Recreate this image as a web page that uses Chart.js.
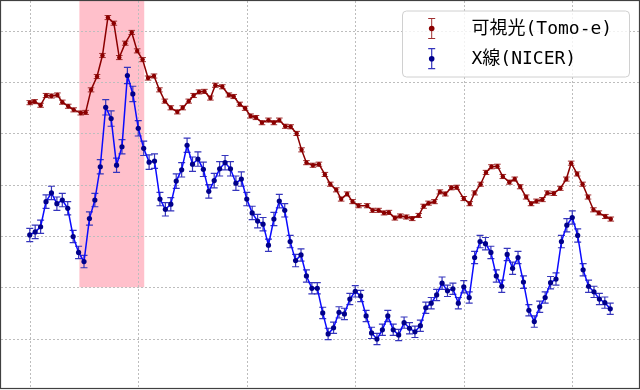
<!DOCTYPE html>
<html><head><meta charset="utf-8">
<script src="https://cdn.jsdelivr.net/npm/chart.js@4.4.0/dist/chart.umd.min.js"></script>
<style>html,body{margin:0;padding:0;background:#fff;}#wrap{width:640px;height:390px;}</style>
</head><body><div id="wrap"><canvas id="c" width="640" height="390"></canvas></div>
<script>
// ---- data ----
const seriesLabels = ['可視光(Tomo-e)', 'X線(NICER)'];
const xTicks = [0, 20, 40, 60, 80, 100];
const yTicks = [0, 1, 2, 3, 4, 5, 6];
const highlightX = [9.15, 21.1];
const highlightYBottom = 1;

const blueFlux = [
2.02,2.08,2.18,2.67,2.84,2.63,2.70,2.54,1.99,1.68,
1.50,2.34,2.70,3.35,4.51,4.29,3.38,3.74,5.13,4.77,
4.10,3.71,3.44,3.46,2.72,2.52,2.62,3.07,3.29,3.77,
3.40,3.50,3.30,2.87,3.08,3.31,3.43,3.31,3.03,3.11,
2.72,2.45,2.29,2.23,1.82,2.33,2.68,2.50,1.89,1.52,
1.63,1.22,0.98,0.98,0.50,0.09,0.21,0.51,0.48,0.77,
0.92,0.83,0.44,0.11,-0.01,0.17,0.44,0.17,0.07,0.31,
0.20,0.13,0.25,0.60,0.69,0.85,1.08,0.93,0.97,0.69,
1.01,0.80,1.58,1.89,1.85,1.68,1.22,1.02,1.64,1.37,
1.58,1.10,0.55,0.33,0.62,0.80,1.09,1.16,1.89,2.21,
2.36,2.01,1.34,1.02,0.91,0.77,0.70,0.58];
const blueErr = [
0.13,0.13,0.13,0.13,0.13,0.13,0.13,0.13,0.12,0.12,
0.12,0.13,0.13,0.14,0.15,0.15,0.14,0.14,0.16,0.15,
0.15,0.14,0.14,0.14,0.13,0.13,0.13,0.14,0.14,0.14,
0.14,0.14,0.14,0.13,0.14,0.14,0.14,0.14,0.14,0.14,
0.13,0.13,0.13,0.13,0.12,0.13,0.13,0.13,0.12,0.12,
0.12,0.12,0.11,0.11,0.11,0.11,0.11,0.11,0.11,0.11,
0.11,0.11,0.11,0.11,0.11,0.11,0.11,0.11,0.11,0.11,
0.11,0.11,0.11,0.11,0.11,0.11,0.12,0.11,0.11,0.11,
0.12,0.11,0.12,0.12,0.12,0.12,0.12,0.12,0.12,0.12,
0.12,0.12,0.11,0.11,0.11,0.11,0.12,0.12,0.12,0.13,
0.13,0.13,0.12,0.12,0.11,0.11,0.11,0.11];

const redTime = [
0.0,0.9,2.0,3.0,4.0,5.1,6.0,7.1,8.1,9.4,
10.3,11.3,12.4,13.4,14.4,15.5,16.5,17.6,18.8,19.8,
20.8,21.8,22.9,23.9,24.9,26.0,27.2,28.2,29.3,30.2,
31.2,32.2,33.3,34.2,35.5,36.7,37.6,38.7,39.7,40.7,
41.7,42.8,44.0,45.0,46.0,47.1,48.1,49.2,50.1,51.0,
52.2,53.3,54.4,55.4,56.5,57.4,58.5,59.5,60.6,62.2,
63.2,64.3,65.3,66.2,67.3,68.3,69.4,70.5,71.7,72.6,
73.5,74.6,75.6,76.6,77.7,78.7,80.0,81.1,82.0,83.1,
84.1,85.1,86.2,87.2,88.4,89.4,90.4,91.5,92.4,93.4,
94.5,95.4,96.6,97.8,98.9,99.8,100.9,101.9,102.9,103.9,
104.9,106.1,107.1];
const redFlux = [
4.60,4.62,4.55,4.74,4.73,4.75,4.61,4.53,4.46,4.40,
4.41,4.85,5.11,5.52,6.26,6.15,5.48,5.76,5.97,5.61,
5.44,5.08,5.12,4.85,4.63,4.50,4.42,4.50,4.63,4.74,
4.81,4.82,4.69,4.94,4.91,4.75,4.72,4.57,4.49,4.34,
4.31,4.21,4.26,4.21,4.26,4.14,4.13,4.00,3.68,3.43,
3.38,3.40,3.20,3.01,2.90,2.72,2.82,2.67,2.59,2.59,
2.50,2.50,2.45,2.46,2.35,2.39,2.37,2.34,2.40,2.58,
2.64,2.67,2.86,2.82,2.94,2.95,2.73,2.63,2.84,3.01,
3.24,3.35,3.36,3.16,3.05,3.11,2.96,2.76,2.63,2.68,
2.71,2.84,2.83,2.93,3.11,3.42,3.21,3.01,2.76,2.51,
2.45,2.38,2.33];
const redErr = [
0.04,0.04,0.04,0.04,0.04,0.04,0.04,0.04,0.04,0.04,
0.04,0.04,0.04,0.04,0.04,0.04,0.04,0.04,0.04,0.04,
0.04,0.04,0.04,0.04,0.04,0.04,0.04,0.04,0.04,0.04,
0.04,0.04,0.04,0.04,0.04,0.04,0.04,0.04,0.04,0.04,
0.04,0.04,0.04,0.04,0.04,0.04,0.04,0.04,0.04,0.04,
0.04,0.04,0.04,0.04,0.04,0.04,0.04,0.04,0.04,0.04,
0.04,0.04,0.04,0.04,0.04,0.04,0.04,0.04,0.04,0.04,
0.04,0.04,0.04,0.04,0.04,0.04,0.04,0.04,0.04,0.04,
0.04,0.04,0.04,0.04,0.04,0.04,0.04,0.04,0.04,0.04,
0.04,0.04,0.04,0.04,0.04,0.04,0.04,0.04,0.04,0.04,
0.04,0.04,0.04];

// ---- build ----
const redPts = redFlux.map((v, j) => ({x: redTime[j], y: v}));
const bluePts = blueFlux.map((v, i) => ({x: i, y: v}));

const highlightPlugin = {
  id: 'highlight',
  beforeDraw(chart) {
    const {ctx, chartArea, scales} = chart;
    const x0 = scales.x.getPixelForValue(highlightX[0]);
    const x1 = scales.x.getPixelForValue(highlightX[1]);
    const yb = scales.y.getPixelForValue(highlightYBottom);
    ctx.save();
    ctx.fillStyle = '#ffc0cb';
    ctx.fillRect(x0, chartArea.top, x1 - x0, yb - chartArea.top);
    ctx.restore();
  }
};

const gridPlugin = {
  id: 'dotgrid',
  beforeDatasetsDraw(chart) {
    const {ctx, chartArea: a, scales} = chart;
    ctx.save();
    ctx.strokeStyle = '#bdbdbd';
    ctx.lineWidth = 1;
    ctx.setLineDash([2, 2]);
    xTicks.forEach(v => {
      const p = Math.round(scales.x.getPixelForValue(v)) + 0.5;
      ctx.beginPath(); ctx.moveTo(p, a.top); ctx.lineTo(p, a.bottom); ctx.stroke();
    });
    yTicks.forEach(v => {
      const p = Math.round(scales.y.getPixelForValue(v)) + 0.5;
      ctx.beginPath(); ctx.moveTo(a.left, p); ctx.lineTo(a.right, p); ctx.stroke();
    });
    ctx.restore();
  }
};

const errorPlugin = {
  id: 'errbars',
  beforeDatasetDraw(chart, args) {
    const ds = chart.data.datasets[args.index];
    const errs = ds.errors;
    if (!errs) return;
    const {ctx, scales} = chart;
    ctx.save();
    ctx.strokeStyle = ds.errColor;
    ctx.lineWidth = ds.errWidth;
    ds.data.forEach((p, k) => {
      const px = scales.x.getPixelForValue(p.x);
      const yt = scales.y.getPixelForValue(p.y + errs[k]);
      const yb = scales.y.getPixelForValue(p.y - errs[k]);
      const c = ds.capHalf;
      ctx.beginPath();
      ctx.moveTo(px, yt); ctx.lineTo(px, yb);
      ctx.moveTo(px - c, yt); ctx.lineTo(px + c, yt);
      ctx.moveTo(px - c, yb); ctx.lineTo(px + c, yb);
      ctx.stroke();
    });
    ctx.restore();
  }
};

const framePlugin = {
  id: 'frame',
  afterDatasetsDraw(chart) {
    const {ctx, chartArea: a} = chart;
    ctx.save();
    ctx.strokeStyle = '#404040';
    ctx.lineWidth = 1.2;
    ctx.strokeRect(a.left - 0.5, a.top - 0.5, a.right - a.left + 1, a.bottom - a.top + 1);
    ctx.restore();
  }
};

function roundRect(ctx, x, y, w, h, r) {
  ctx.beginPath();
  ctx.moveTo(x + r, y);
  ctx.lineTo(x + w - r, y); ctx.quadraticCurveTo(x + w, y, x + w, y + r);
  ctx.lineTo(x + w, y + h - r); ctx.quadraticCurveTo(x + w, y + h, x + w - r, y + h);
  ctx.lineTo(x + r, y + h); ctx.quadraticCurveTo(x, y + h, x, y + h - r);
  ctx.lineTo(x, y + r); ctx.quadraticCurveTo(x, y, x + r, y);
  ctx.closePath();
}

const legendPlugin = {
  id: 'errLegend',
  afterDraw(chart) {
    const {ctx} = chart;
    const box = {x: 402.5, y: 11, w: 227, h: 66};
    ctx.save();
    roundRect(ctx, box.x, box.y, box.w, box.h, 4);
    ctx.fillStyle = 'rgba(255,255,255,0.8)';
    ctx.fill();
    ctx.strokeStyle = '#d0d0d0';
    ctx.lineWidth = 1;
    ctx.stroke();
    const rows = [28.5, 58.7];
    chart.data.datasets.forEach((ds, k) => {
      const cy = rows[k], sx = 431.7;
      ctx.strokeStyle = ds.errColor;
      ctx.lineWidth = ds.errWidth;
      ctx.beginPath();
      ctx.moveTo(sx, cy - 10); ctx.lineTo(sx, cy + 10);
      ctx.moveTo(sx - 3.5, cy - 10); ctx.lineTo(sx + 3.5, cy - 10);
      ctx.moveTo(sx - 3.5, cy + 10); ctx.lineTo(sx + 3.5, cy + 10);
      ctx.stroke();
      ctx.fillStyle = ds.pointBackgroundColor;
      ctx.beginPath(); ctx.arc(sx, cy, 2.8, 0, Math.PI * 2); ctx.fill();
      ctx.fillStyle = '#000';
      ctx.font = '18px "DejaVu Sans Mono", "Noto Sans CJK JP"';
      ctx.textBaseline = 'middle';
      ctx.fillText(ds.label, 471.5, cy + 1);
    });
    ctx.restore();
  }
};

new Chart(document.getElementById('c'), {
  type: 'line',
  data: {
    datasets: [
      {label: seriesLabels[0], data: redPts, errors: redErr,
       borderColor: '#8b0000', backgroundColor: '#8b0000', pointBackgroundColor: '#8b0000',
       pointBorderColor: '#8b0000', borderWidth: 1.5, pointRadius: 2.2, pointBorderWidth: 0,
       errColor: '#a03030', errWidth: 1, capHalf: 3.3, tension: 0},
      {label: seriesLabels[1], data: bluePts, errors: blueErr,
       borderColor: '#0a0aff', backgroundColor: '#00008b', pointBackgroundColor: '#00008b',
       pointBorderColor: '#00008b', borderWidth: 1.5, pointRadius: 2.6, pointBorderWidth: 0,
       errColor: '#3535bd', errWidth: 1.2, capHalf: 3.5, tension: 0}
    ]
  },
  options: {
    responsive: false, animation: false, devicePixelRatio: 1,
    layout: {autoPadding: false, padding: {left: 1, top: 1, right: 1, bottom: 2}},
    plugins: {legend: {display: false}, tooltip: {enabled: false}},
    scales: {
      x: {type: 'linear', min: -5.3, max: 112.3, display: false},
      y: {type: 'linear', min: -0.965, max: 6.583, display: false}
    }
  },
  plugins: [highlightPlugin, gridPlugin, errorPlugin, framePlugin, legendPlugin]
});
</script></body></html>
